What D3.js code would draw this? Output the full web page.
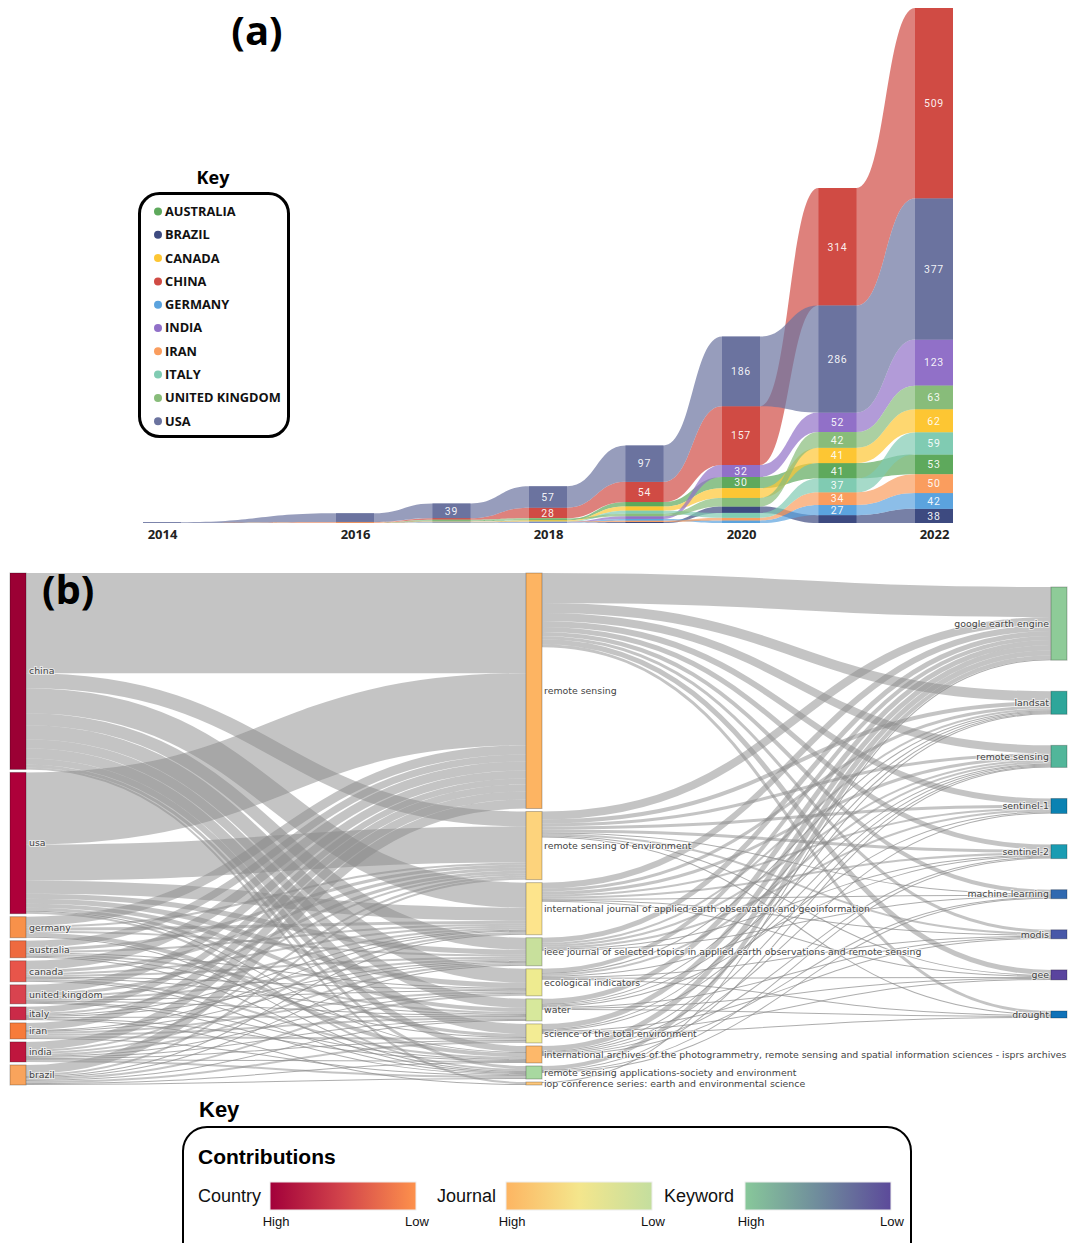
<!DOCTYPE html>
<html>
<head>
<meta charset="utf-8">
<script src="https://cdn.jsdelivr.net/npm/d3@7"></script>
<style>
  body { margin: 0; background: #fff; }
  svg { display: block; }
</style>
</head>
<body>
<svg id="chart" width="1073" height="1243"></svg>
<script>
// ================= Panel (a): publications per country and year =================
// 2015 has no records, so the streams run straight from 2014 to 2016
const years = [2014, 2016, 2017, 2018, 2019, 2020, 2021, 2022];
const tickYears = [2014, 2016, 2018, 2020, 2022];
const countryNames = ["AUSTRALIA", "BRAZIL", "CANADA", "CHINA", "GERMANY", "INDIA", "IRAN", "ITALY", "UNITED KINGDOM", "USA"];

const australia = [0, 0, 2, 3, 12, 30, 41, 53];
const brazil    = [0, 0, 0, 1, 3, 17, 21, 38];
const canada    = [0, 1, 1, 2, 11, 26, 41, 62];
const china     = [0, 1, 4, 28, 54, 157, 314, 509];
const germany   = [0, 0, 1, 1, 5, 7, 27, 42];
const india     = [0, 0, 1, 1, 7, 32, 52, 123];
const iran      = [0, 1, 1, 1, 3, 7, 34, 50];
const italy     = [0, 0, 1, 1, 8, 13, 37, 59];
const unitedKingdom = [0, 0, 2, 3, 7, 23, 42, 63];
const usa       = [2, 23, 39, 57, 97, 186, 286, 377];

// ================= Panel (b): country -> journal -> keyword flows =================
const countryNodes = ["china", "usa", "germany", "australia", "canada", "united kingdom", "italy", "iran", "india", "brazil"];
const journalNodes = [
  "remote sensing",
  "remote sensing of environment",
  "international journal of applied earth observation and geoinformation",
  "ieee journal of selected topics in applied earth observations and remote sensing",
  "ecological indicators",
  "water",
  "science of the total environment",
  "international archives of the photogrammetry, remote sensing and spatial information sciences - isprs archives",
  "remote sensing applications-society and environment",
  "iop conference series: earth and environmental science"
];
const keywordNodes = ["google earth engine", "landsat", "remote sensing", "sentinel-1", "sentinel-2", "machine learning", "modis", "gee", "drought"];

// rows: countries, columns: journals (same order as journalNodes)
const countryToJournal = [
  [100, 15, 25, 12, 14, 9, 10, 6, 3, 2],
  [72, 36, 13, 5, 5, 4, 3, 1, 2, 0],
  [9, 2, 3, 2, 0, 0, 0, 4, 1, 0],
  [7, 3, 2, 0, 1, 2, 1, 0, 1, 0],
  [9, 3, 2, 2, 1, 1, 0, 2, 1, 0],
  [8, 3, 2, 2, 1, 1, 0, 1, 1, 0],
  [6, 2, 1, 1, 0, 1, 0, 1, 0, 1],
  [7, 0, 1, 1, 2, 2, 2, 0, 1, 0],
  [8, 2, 2, 2, 1, 1, 1, 1, 2, 0],
  [9, 2, 1, 1, 2, 1, 2, 1, 1, 0]
];
// rows: journals, columns: keywords (same order as keywordNodes)
const journalToKeyword = [
  [30, 10, 8, 6, 5, 4, 3, 5, 3],
  [8, 4, 3, 3, 3, 1, 2, 1, 1],
  [6, 3, 3, 2, 2, 1, 1, 1, 0],
  [5, 2, 2, 2, 1, 1, 0, 0, 0],
  [4, 1, 2, 0, 1, 0, 1, 1, 1],
  [5, 1, 1, 1, 0, 0, 1, 1, 1],
  [5, 1, 1, 0, 0, 0, 1, 1, 1],
  [5, 1, 1, 1, 1, 1, 0, 0, 0],
  [4, 0, 1, 0, 1, 1, 0, 0, 0],
  [1, 0, 0, 0, 0, 0, 0, 0, 0]
];

// ================= styles =================
const streamColor = {
  "AUSTRALIA": "#5ea95c", "BRAZIL": "#3d4a80", "CANADA": "#fdc633", "CHINA": "#d04b44",
  "GERMANY": "#5ba3de", "INDIA": "#9170c8", "IRAN": "#fa9d5e", "ITALY": "#80cbb2",
  "UNITED KINGDOM": "#88bc7a", "USA": "#6b739f"
};
const countryColor = {
  "china": "#9b0034", "usa": "#ae003a", "germany": "#f8914a", "australia": "#ee6a3f",
  "canada": "#e8554a", "united kingdom": "#d9434f", "italy": "#ca2a48", "iran": "#f77b3a",
  "india": "#bf163e", "brazil": "#f9a45c"
};
const journalColor = ["#fdb462", "#fdd37c", "#fde48c", "#c8e09c", "#eeeb90", "#d7e89c", "#f3ec94", "#fdb86a", "#a8d8a0", "#fdc77a"];
const keywordColor = ["#8ecb98", "#2ea69a", "#52b69a", "#0b82b2", "#1a9cb2", "#3069b0", "#4858a8", "#5a449e", "#1072b8"];

const svg = d3.select("#chart");
const titleFont = "'Open Sans', 'DejaVu Sans', sans-serif";

// ----------------------------------------------------------------------------
// Panel (a)
// ----------------------------------------------------------------------------
const seriesA = countryNames.map((name, i) => ({
  name,
  values: [australia, brazil, canada, china, germany, india, iran, italy, unitedKingdom, usa][i]
}));

const baseY = 523, topY = 8, barW = 38;
const x = d3.scaleLinear().domain([2014, 2022]).range([162, 934]);
const totals = years.map((yr, i) => d3.sum(seriesA, s => s.values[i]));
const y = d3.scaleLinear().domain([0, d3.max(totals)]).range([baseY, topY]);

// every year is stacked on its own: smallest at the baseline, largest on top
const stacks = new Map(seriesA.map(s => [s.name, []]));
years.forEach((yr, i) => {
  const order = seriesA.slice().sort((a, b) => (a.values[i] - b.values[i]) || d3.ascending(a.name, b.name));
  let acc = 0;
  order.forEach(s => {
    const v = s.values[i];
    stacks.get(s.name).push({ year: yr, value: v, lo: acc, hi: acc + v });
    acc += v;
  });
});

const gA = svg.append("g");
const area = d3.area()
  .x(d => d.x)
  .y0(d => y(d.lo))
  .y1(d => y(d.hi))
  .curve(d3.curveBumpX);

seriesA.forEach(s => {
  const pts = [];
  stacks.get(s.name).forEach(d => {
    pts.push({ x: x(d.year) - barW / 2, lo: d.lo, hi: d.hi });
    pts.push({ x: x(d.year) + barW / 2, lo: d.lo, hi: d.hi });
  });
  gA.append("path")
    .attr("d", area(pts))
    .attr("fill", streamColor[s.name])
    .attr("fill-opacity", 0.7);
});

// solid blocks at each year
seriesA.forEach(s => {
  stacks.get(s.name).forEach(d => {
    if (d.value <= 0) return;
    gA.append("rect")
      .attr("x", x(d.year) - barW / 2)
      .attr("width", barW)
      .attr("y", y(d.hi))
      .attr("height", y(d.lo) - y(d.hi))
      .attr("fill", streamColor[s.name]);
  });
});

// value labels on blocks tall enough to carry them
const labelMin = 27;
seriesA.forEach(s => {
  stacks.get(s.name).forEach(d => {
    if (d.value < labelMin) return;
    gA.append("text")
      .attr("x", x(d.year))
      .attr("y", (y(d.lo) + y(d.hi)) / 2)
      .attr("dy", "0.36em")
      .attr("text-anchor", "middle")
      .attr("fill", "#fff")
      .attr("fill-opacity", 0.92)
      .style("font", "10.5px Roboto, sans-serif")
      .style("letter-spacing", "0.8px")
      .text(d.value);
  });
});

// year axis
const axisA = d3.axisBottom(x).tickValues(tickYears).tickFormat(d3.format("d")).tickSize(0).tickPadding(7);
const axG = svg.append("g").attr("transform", `translate(0,${baseY})`).call(axisA);
axG.select(".domain").remove();
axG.selectAll("text")
  .style("font-family", titleFont)
  .style("font-weight", 700)
  .style("font-size", "13px")
  .attr("fill", "#222");

// title (a)
svg.append("text")
  .attr("x", 257).attr("y", 45)
  .attr("text-anchor", "middle")
  .style("font-family", titleFont).style("font-weight", 700).style("font-size", "40px")
  .text("(a)");

// key of panel (a)
svg.append("text")
  .attr("x", 213).attr("y", 184)
  .attr("text-anchor", "middle")
  .style("font-family", titleFont).style("font-weight", 700).style("font-size", "18px")
  .text("Key");
svg.append("rect")
  .attr("x", 139.5).attr("y", 193.5).attr("width", 149).attr("height", 243).attr("rx", 20)
  .attr("fill", "none").attr("stroke", "#000").attr("stroke-width", 3);
const keyA = svg.append("g");
countryNames.forEach((name, i) => {
  const yy = 211.5 + i * 23.3;
  keyA.append("circle").attr("cx", 158).attr("cy", yy).attr("r", 4).attr("fill", streamColor[name]);
  keyA.append("text")
    .attr("x", 165).attr("y", yy).attr("dy", "0.35em")
    .style("font-family", titleFont).style("font-weight", 700).style("font-size", "12.8px")
    .attr("fill", "#111")
    .text(name);
});

// ----------------------------------------------------------------------------
// Panel (b): three-column flow diagram
// ----------------------------------------------------------------------------
const nodeW = 16;
const colX = [10, 526, 1051];
const colTop = 573, colBottom = 1085, colPad = 3;
const rightTop = 587, rightBottom = 1018;

const nodes = [];
const mk = (col, name, idx, color) => {
  const n = { id: col + ":" + name, col, name, idx, color, inLinks: [], outLinks: [] };
  nodes.push(n);
  return n;
};
const cNodes = countryNodes.map((n, i) => mk(0, n, i, countryColor[n]));
const jNodes = journalNodes.map((n, i) => mk(1, n, i, journalColor[i]));
const kNodes = keywordNodes.map((n, i) => mk(2, n, i, keywordColor[i]));

const links = [];
countryToJournal.forEach((row, i) => row.forEach((v, j) => {
  if (v > 0) links.push({ source: cNodes[i], target: jNodes[j], value: v });
}));
journalToKeyword.forEach((row, i) => row.forEach((v, j) => {
  if (v > 0) links.push({ source: jNodes[i], target: kNodes[j], value: v });
}));
links.forEach(l => { l.source.outLinks.push(l); l.target.inLinks.push(l); });
nodes.forEach(n => {
  n.value = Math.max(d3.sum(n.inLinks, l => l.value), d3.sum(n.outLinks, l => l.value));
});

const leftTotal = d3.sum(cNodes, n => n.value);
const v2px = d3.scaleLinear()
  .domain([0, leftTotal])
  .range([0, (colBottom - colTop) - colPad * (cNodes.length - 1)]);

function placeColumn(col, x0, top, bottom) {
  const sum = d3.sum(col, n => v2px(n.value));
  const gap = (bottom - top - sum) / (col.length - 1);
  let yy = top;
  col.forEach(n => {
    n.x0 = x0; n.x1 = x0 + nodeW;
    n.y0 = yy; n.y1 = yy + v2px(n.value);
    yy = n.y1 + gap;
  });
}
placeColumn(cNodes, colX[0], colTop, colBottom);
placeColumn(jNodes, colX[1], colTop, colBottom);
placeColumn(kNodes, colX[2], rightTop, rightBottom);

// link offsets: outgoing ordered by target position, incoming by source position
nodes.forEach(n => {
  let sy = n.y0;
  n.outLinks.slice().sort((a, b) => a.target.y0 - b.target.y0).forEach(l => {
    l.width = v2px(l.value);
    l.sy = sy + l.width / 2; sy += l.width;
  });
  let ty = n.y0;
  n.inLinks.slice().sort((a, b) => a.source.y0 - b.source.y0).forEach(l => {
    l.ty = ty + v2px(l.value) / 2; ty += v2px(l.value);
  });
});

const linkPath = d3.linkHorizontal()
  .source(l => [l.source.x1, l.sy])
  .target(l => [l.target.x0, l.ty]);

const gB = svg.append("g");
gB.append("g")
  .attr("fill", "none")
  .selectAll("path")
  .data(links)
  .join("path")
  .attr("d", linkPath)
  .attr("stroke", "#8a8a8a")
  .attr("stroke-opacity", l => l.width < 1.5 ? 0.7 : 0.5)
  .attr("stroke-width", l => Math.max(1, l.width));

gB.append("g")
  .selectAll("rect")
  .data(nodes)
  .join("rect")
  .attr("x", n => n.x0)
  .attr("y", n => n.y0)
  .attr("width", n => n.x1 - n.x0)
  .attr("height", n => Math.max(1, n.y1 - n.y0))
  .attr("fill", n => n.color)
  .attr("stroke", "rgba(0,0,0,0.25)")
  .attr("stroke-width", 1);

gB.append("g")
  .selectAll("text")
  .data(nodes)
  .join("text")
  .attr("x", n => n.col === 2 ? n.x0 - 2 : n.x1 + (n.col === 0 ? 3 : 2))
  .attr("y", n => (n.y0 + n.y1) / 2)
  .attr("dy", "0.35em")
  .attr("text-anchor", n => n.col === 2 ? "end" : "start")
  .style("font", "9.4px 'DejaVu Sans', sans-serif")
  .attr("fill", "#444")
  .attr("stroke", "#fff")
  .attr("stroke-opacity", 0.6)
  .attr("stroke-width", 2)
  .attr("paint-order", "stroke")
  .text(n => n.name);

svg.append("text")
  .attr("x", 42).attr("y", 604)
  .style("font-family", titleFont).style("font-weight", 700).style("font-size", "40px")
  .text("(b)");

// ----------------------------------------------------------------------------
// Colour key for panel (b)
// ----------------------------------------------------------------------------
const keyFont = "'Liberation Sans', Arial, sans-serif";
const defs = svg.append("defs");
const gradients = [
  { id: "gCountry", label: "Country", stops: ["#a2003a", "#d3454b", "#fd914c"], x: 270, lx: 198 },
  { id: "gJournal", label: "Journal", stops: ["#fdb562", "#f4e68c", "#c4de9e"], x: 506, lx: 437 },
  { id: "gKeyword", label: "Keyword", stops: ["#88c89a", "#6f8c9c", "#5c4a9a"], x: 745, lx: 664 }
];
gradients.forEach(g => {
  const lg = defs.append("linearGradient").attr("id", g.id);
  g.stops.forEach((c, i) => lg.append("stop").attr("offset", i / (g.stops.length - 1)).attr("stop-color", c));
});

svg.append("text").attr("x", 199).attr("y", 1117)
  .style("font-family", keyFont).style("font-weight", 700).style("font-size", "22px").text("Key");
svg.append("rect")
  .attr("x", 183).attr("y", 1127).attr("width", 728).attr("height", 140).attr("rx", 24)
  .attr("fill", "none").attr("stroke", "#000").attr("stroke-width", 2);
svg.append("text").attr("x", 198).attr("y", 1164)
  .style("font-family", keyFont).style("font-weight", 700).style("font-size", "21px").text("Contributions");

gradients.forEach(g => {
  svg.append("text").attr("x", g.lx).attr("y", 1202)
    .style("font-family", keyFont).style("font-size", "18px").attr("fill", "#111").text(g.label);
  svg.append("rect").attr("x", g.x).attr("y", 1182).attr("width", 146).attr("height", 28)
    .attr("fill", `url(#${g.id})`).attr("stroke", "#eee").attr("stroke-width", 1);
  svg.append("text").attr("x", g.x + 6).attr("y", 1226).attr("text-anchor", "middle")
    .style("font-family", keyFont).style("font-size", "13px").attr("fill", "#111").text("High");
  svg.append("text").attr("x", g.x + 147).attr("y", 1226).attr("text-anchor", "middle")
    .style("font-family", keyFont).style("font-size", "13px").attr("fill", "#111").text("Low");
});
</script>
</body>
</html>
